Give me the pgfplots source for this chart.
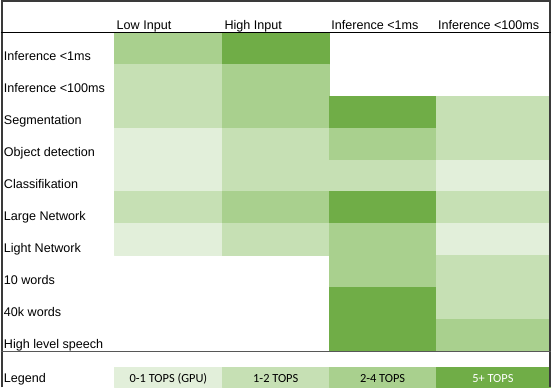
\documentclass[border=0pt]{standalone}
\usepackage{fontspec}
\setmainfont{Liberation Sans}
\newfontfamily\calibri{Carlito}
\usepackage{pgfplots}
\pgfplotsset{compat=1.18}
\usepgfplotslibrary{patchplots}
\definecolor{gridline}{HTML}{3A3A3A}
\begin{document}
\begin{tikzpicture}
\begin{axis}[
  width=552bp, height=388bp, scale only axis,
  xmin=0, xmax=552, ymin=0, ymax=388, y dir=reverse,
  hide axis, clip=false,
  colormap={tops}{rgb255=(226,239,218) rgb255=(198,224,180) rgb255=(169,208,142) rgb255=(112,173,71)},
  point meta min=0, point meta max=3,
]
% cells: 4 vertices each, meta = TOPS level (0: 0-1, 1: 1-2, 2: 2-4, 3: 5+)
\addplot[patch, patch type=polygon, vertex count=4, shader=flat, point meta=explicit]
table[meta=c] {
x y c
114 32 2
222 32 2
222 64 2
114 64 2
222 32 3
329 32 3
329 64 3
222 64 3
114 64 1
222 64 1
222 96 1
114 96 1
222 64 2
329 64 2
329 96 2
222 96 2
114 96 1
222 96 1
222 128 1
114 128 1
222 96 2
329 96 2
329 128 2
222 128 2
329 96 3
436 96 3
436 128 3
329 128 3
436 96 1
550 96 1
550 128 1
436 128 1
114 128 0
222 128 0
222 160 0
114 160 0
222 128 1
329 128 1
329 160 1
222 160 1
329 128 2
436 128 2
436 160 2
329 160 2
436 128 1
550 128 1
550 160 1
436 160 1
114 160 0
222 160 0
222 192 0
114 192 0
222 160 1
329 160 1
329 192 1
222 192 1
329 160 1
436 160 1
436 192 1
329 192 1
436 160 0
550 160 0
550 192 0
436 192 0
114 192 1
222 192 1
222 224 1
114 224 1
222 192 2
329 192 2
329 224 2
222 224 2
329 192 3
436 192 3
436 224 3
329 224 3
436 192 1
550 192 1
550 224 1
436 224 1
114 224 0
222 224 0
222 256 0
114 256 0
222 224 1
329 224 1
329 256 1
222 256 1
329 224 2
436 224 2
436 256 2
329 256 2
436 224 0
550 224 0
550 256 0
436 256 0
329 256 2
436 256 2
436 288 2
329 288 2
436 256 1
550 256 1
550 288 1
436 288 1
329 288 3
436 288 3
436 320 3
329 320 3
436 288 1
550 288 1
550 320 1
436 320 1
329 320 3
436 320 3
436 352 3
329 352 3
436 320 2
550 320 2
550 352 2
436 352 2
114 368 0
222 368 0
222 388 0
114 388 0
222 368 1
329 368 1
329 388 1
222 388 1
329 368 2
436 368 2
436 388 2
329 388 2
436 368 3
550 368 3
550 388 3
436 388 3
};
% frame and rules
\draw[gridline, line width=1.8bp] (axis cs:0.9,388) -- (axis cs:0.9,0.9) -- (axis cs:550.6,0.9) -- (axis cs:550.6,388);
\draw[black, line width=1.3bp] (axis cs:0,32.3) -- (axis cs:551.5,32.3);
\draw[gridline!85, line width=1.5bp] (axis cs:0,352.3) -- (axis cs:551.5,352.3);
% header
\begin{scope}[every node/.style={anchor=base west, inner sep=0pt, font=\fontsize{12.6bp}{15bp}\selectfont}]
\node at (axis cs:116,29.2) {Low Input};
\node at (axis cs:224,29.2) {High Input};
\node at (axis cs:331,29.2) {Inference <1ms};
\node at (axis cs:438,29.2) {Inference <100ms};
\node at (axis cs:3,61) {Inference <1ms};
\node at (axis cs:3,93) {Inference <100ms};
\node at (axis cs:3,125) {Segmentation};
\node at (axis cs:3,157) {Object detection};
\node at (axis cs:3,189) {Classifikation};
\node at (axis cs:3,221) {Large Network};
\node at (axis cs:3,253) {Light Network};
\node at (axis cs:3,285) {10 words};
\node at (axis cs:3,317) {40k words};
\node at (axis cs:3,349) {High level speech};
\node at (axis cs:3,383.3) {Legend};
\end{scope}
\begin{scope}[every node/.style={anchor=base, inner sep=0pt, font=\calibri\fontsize{12.4bp}{15bp}\selectfont}]
\node at (axis cs:168,383.5) {0-1 TOPS (GPU)};
\node at (axis cs:275.5,383.5) {1-2 TOPS};
\node at (axis cs:382.5,383.5) {2-4 TOPS};
\node[text=white] at (axis cs:493,383.5) {5+ TOPS};
\end{scope}
\end{axis}
\end{tikzpicture}
\end{document}
